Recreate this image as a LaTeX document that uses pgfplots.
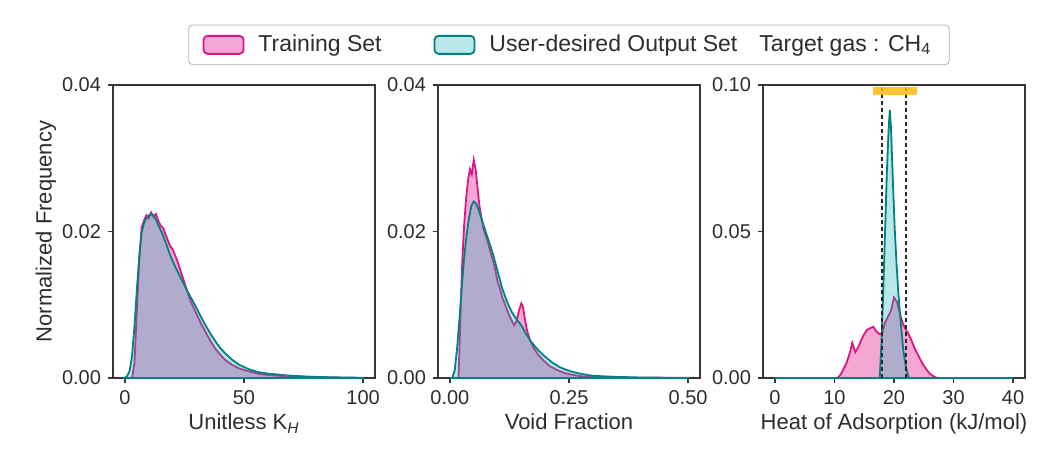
\documentclass[border=0pt]{standalone}
\usepackage{pgfplots}
\pgfplotsset{compat=1.18}
\usepackage{fontspec}
\setmainfont{Liberation Sans}
\definecolor{trainedge}{RGB}{218,24,132}
\definecolor{trainfill}{RGB}{232,60,160}
\definecolor{outedge}{RGB}{0,130,128}
\definecolor{outfill}{RGB}{20,180,185}
\definecolor{spine}{RGB}{55,55,55}
\definecolor{txt}{RGB}{45,45,45}
\definecolor{targetorange}{RGB}{255,185,20}

\pgfplotsset{
  panel/.style={scale only axis, width=131pt, height=146.5pt, ymin=0,
    axis line style={spine, line width=0.9pt},
    tick style={spine, line width=0.6pt}, tick align=outside, major tick length=2.5pt,
    xtick pos=bottom, ytick pos=left,
    scaled x ticks=false, scaled y ticks=false,
    tick label style={font=\fontsize{10}{12}\selectfont, text=txt},
    label style={font=\fontsize{11}{13}\selectfont, text=txt},
    xlabel shift=-2pt,
    /pgf/number format/assume math mode=true,
    yticklabel style={/pgf/number format/.cd, fixed, fixed zerofill, precision=2},
    legend image code/.code={\draw[#1] (0pt,-4.5pt) rectangle (20pt,4.5pt);},
  },
  train/.style={draw=trainedge, line width=0.9pt, fill=trainfill, fill opacity=0.45},
  out/.style={draw=outedge, line width=0.9pt, fill=outfill, fill opacity=0.3},
}

\begin{document}
\begin{tikzpicture}
% Panel 1
\begin{axis}[panel, at={(0pt,0pt)}, anchor=south west,
  xmin=-5, xmax=105, ymax=0.04, xtick={0,50,100}, ytick={0,0.02,0.04},
  xlabel={Unitless K\textsubscript{\textit{H}}}, ylabel={Normalized Frequency}, ylabel shift=-4pt]
\addplot[train] coordinates {
(0,0) (3,0) (4,0.002) (5,0.009) (6,0.016) (7,0.0205) (8,0.0215) (9,0.0222) (10,0.0218)
(11,0.0226) (12,0.0220) (13,0.0224) (14,0.0215) (15,0.0208) (16,0.0205) (17,0.0197)
(18,0.0188) (19,0.0180) (20,0.0176) (21,0.0168) (22,0.0160) (23,0.0150) (24,0.0140)
(25,0.0130) (26,0.0120) (27,0.0110) (28,0.0102) (30,0.0088) (32,0.0074) (34,0.0062)
(36,0.0050) (38,0.0040) (40,0.0032) (42,0.0025) (45,0.0018) (48,0.0013) (52,0.0009)
(56,0.0006) (60,0.0004) (70,0.0002) (80,0.0001) (100,0)} \closedcycle;
\addplot[out] coordinates {
(0,0) (1,0.0003) (2,0.001) (3,0.003) (4,0.007) (5,0.012) (6,0.0165) (7,0.0198) (8,0.0212)
(9,0.0218) (10,0.0222) (11,0.0224) (12,0.0222) (13,0.0216) (14,0.0209) (15,0.0202)
(16,0.0195) (17,0.0186) (18,0.0177) (19,0.0168) (20,0.0160) (22,0.0146) (24,0.0133)
(26,0.0120) (28,0.0108) (30,0.0096) (32,0.0083) (34,0.0071) (36,0.0060) (38,0.0050)
(40,0.0041) (42,0.0034) (45,0.0025) (48,0.0018) (52,0.0012) (56,0.0008) (60,0.0006)
(70,0.0003) (80,0.00015) (90,0.00008) (100,0.00003)} \closedcycle;
\end{axis}
% Panel 2
\begin{axis}[panel, at={(162.5pt,0pt)}, anchor=south west,
  xmin=-0.025, xmax=0.525, ymax=0.04, xtick={0,0.25,0.5}, ytick={0,0.02,0.04},
  xticklabel style={/pgf/number format/.cd, fixed, fixed zerofill, precision=2},
  xlabel={Void Fraction},
  legend style={at={(0.5,1.068)}, anchor=south, legend columns=3,
    draw=black!30, rounded corners=2pt, font=\fontsize{11.5}{13.5}\selectfont, text=txt,
    inner xsep=7pt, inner ysep=3pt,
    /tikz/every even column/.append style={column sep=24pt},
    /tikz/every odd column/.append style={column sep=5pt}}]
\addplot[train] coordinates {
(0,0) (0.018,0) (0.022,0.008) (0.026,0.016) (0.030,0.021) (0.034,0.0245) (0.038,0.027)
(0.042,0.0285) (0.046,0.0278) (0.050,0.0298) (0.054,0.0285) (0.058,0.026) (0.062,0.0235)
(0.066,0.022) (0.070,0.0205) (0.075,0.0195) (0.080,0.0185) (0.085,0.0172) (0.090,0.0162)
(0.095,0.0148) (0.100,0.0132) (0.105,0.0122) (0.110,0.0110) (0.115,0.0102) (0.120,0.0093)
(0.125,0.0085) (0.130,0.0078) (0.135,0.0072) (0.140,0.0078) (0.145,0.0092) (0.150,0.0102)
(0.153,0.0098) (0.157,0.0082) (0.162,0.0065) (0.168,0.0052) (0.175,0.0042) (0.185,0.0032)
(0.195,0.0025) (0.21,0.0016) (0.225,0.0011) (0.24,0.0007) (0.26,0.0004) (0.28,0.0002)
(0.32,0.0001) (0.4,0.00003) (0.5,0)} \closedcycle;
\addlegendentry{Training Set}
\addplot[out] coordinates {
(0,0) (0.005,0) (0.010,0.001) (0.015,0.004) (0.020,0.008) (0.025,0.0125) (0.030,0.0165)
(0.035,0.0195) (0.040,0.0218) (0.045,0.0235) (0.050,0.0241) (0.055,0.0238) (0.060,0.0230)
(0.065,0.0220) (0.070,0.0210) (0.075,0.0200) (0.080,0.0190) (0.085,0.0180) (0.090,0.0170)
(0.095,0.0158) (0.100,0.0146) (0.110,0.0122) (0.120,0.0104) (0.130,0.0090) (0.140,0.0080)
(0.150,0.0072) (0.160,0.0060) (0.170,0.0050) (0.180,0.0042) (0.190,0.0035) (0.200,0.0029)
(0.215,0.0021) (0.230,0.0015) (0.245,0.0011) (0.26,0.0008) (0.28,0.0005) (0.30,0.0003)
(0.35,0.00015) (0.4,0.00007) (0.5,0.00002)} \closedcycle;
\addlegendentry{User-desired Output Set}
\addlegendimage{empty legend}
\addlegendentry{\hspace{-22pt}Target gas : CH\textsubscript{4}}
\end{axis}
% Panel 3
\begin{axis}[panel, at={(325pt,0pt)}, anchor=south west,
  xmin=-2, xmax=42, ymax=0.1, xtick={0,10,20,30,40}, ytick={0,0.05,0.1},
  xlabel={Heat of Adsorption (kJ/mol)}]
\addplot[train] coordinates {
(0,0) (10.5,0) (11,0.001) (11.5,0.003) (12,0.005) (12.5,0.008) (13,0.012) (13.5,0.0088)
(14,0.0105) (14.5,0.013) (15,0.015) (15.5,0.0165) (16,0.017) (16.5,0.0175) (17,0.016)
(17.5,0.015) (18,0.0152) (18.5,0.019) (19,0.021) (19.5,0.023) (20,0.0275) (20.5,0.026)
(21,0.022) (21.5,0.0185) (22,0.0165) (22.5,0.0148) (23,0.0125) (23.5,0.01) (24,0.008)
(24.5,0.006) (25,0.0042) (25.5,0.0028) (26,0.0015) (26.5,0.0008) (27,0.0002) (27.5,0) (40,0)} \closedcycle;
\addplot[out] coordinates {
(0,0) (17.6,0) (17.9,0.012) (18.2,0.03) (18.5,0.05) (18.8,0.07) (19.1,0.085) (19.3,0.0915)
(19.5,0.085) (19.8,0.068) (20.1,0.052) (20.4,0.04) (20.7,0.03) (21.0,0.022) (21.3,0.015)
(21.6,0.009) (21.9,0.005) (22.2,0.002) (22.5,0) (40,0)} \closedcycle;
\addplot[black!85, line width=1pt, dash pattern=on 2pt off 1.5pt] coordinates {(18,0) (18,0.1)};
\addplot[black!85, line width=1pt, dash pattern=on 2pt off 1.5pt] coordinates {(22,0) (22,0.1)};
\addplot[targetorange, line width=4pt, opacity=0.85] coordinates {(16.4,0.098) (23.9,0.098)};
\end{axis}
\pgfresetboundingbox
\path (-56.5pt,-36.5pt) rectangle (472pt,189pt);
\end{tikzpicture}
\end{document}
